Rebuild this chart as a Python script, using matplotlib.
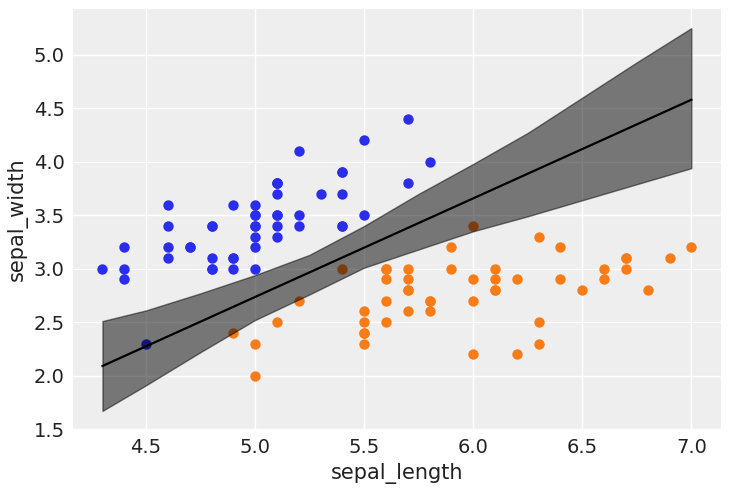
import matplotlib
matplotlib.use("Agg")
import matplotlib.pyplot as plt
import numpy as np

setosa_length = [5.1, 4.9, 4.7, 4.6, 5.0, 5.4, 4.6, 5.0, 4.4, 4.9, 5.4, 4.8, 4.8, 4.3, 5.8, 5.7, 5.4, 5.1, 5.7, 5.1,
                 5.4, 5.1, 4.6, 5.1, 4.8, 5.0, 5.0, 5.2, 5.2, 4.7, 4.8, 5.4, 5.2, 5.5, 4.9, 5.0, 5.5, 4.9, 4.4, 5.1,
                 5.0, 4.5, 4.4, 5.0, 5.1, 4.8, 5.1, 4.6, 5.3, 5.0]
setosa_width = [3.5, 3.0, 3.2, 3.1, 3.6, 3.9, 3.4, 3.4, 2.9, 3.1, 3.7, 3.4, 3.0, 3.0, 4.0, 4.4, 3.9, 3.5, 3.8, 3.8,
                3.4, 3.7, 3.6, 3.3, 3.4, 3.0, 3.4, 3.5, 3.4, 3.2, 3.1, 3.4, 4.1, 4.2, 3.1, 3.2, 3.5, 3.6, 3.0, 3.4,
                3.5, 2.3, 3.2, 3.5, 3.8, 3.0, 3.8, 3.2, 3.7, 3.3]
versicolor_length = [7.0, 6.4, 6.9, 5.5, 6.5, 5.7, 6.3, 4.9, 6.6, 5.2, 5.0, 5.9, 6.0, 6.1, 5.6, 6.7, 5.6, 5.8, 6.2, 5.6,
                     5.9, 6.1, 6.3, 6.1, 6.4, 6.6, 6.8, 6.7, 6.0, 5.7, 5.5, 5.5, 5.8, 6.0, 5.4, 6.0, 6.7, 6.3, 5.6, 5.5,
                     5.5, 6.1, 5.8, 5.0, 5.6, 5.7, 5.7, 6.2, 5.1, 5.7]
versicolor_width = [3.2, 3.2, 3.1, 2.3, 2.8, 2.8, 3.3, 2.4, 2.9, 2.7, 2.0, 3.0, 2.2, 2.9, 2.9, 3.1, 3.0, 2.7, 2.2, 2.5,
                    3.2, 2.8, 2.5, 2.8, 2.9, 3.0, 2.8, 3.0, 2.9, 2.6, 2.4, 2.4, 2.7, 2.7, 3.0, 3.4, 3.1, 2.3, 3.0, 2.5,
                    2.6, 3.0, 2.6, 2.3, 2.7, 3.0, 2.9, 2.9, 2.5, 2.8]

line_x = [4.3, 7.0]
line_y = [2.09, 4.58]

band_x = [4.3, 4.5, 4.75, 5.0, 5.25, 5.5, 5.75, 6.0, 6.25, 6.5, 6.75, 7.0]
band_upper = [2.51, 2.61, 2.77, 2.94, 3.13, 3.40, 3.70, 3.98, 4.27, 4.60, 4.93, 5.25]
band_lower = [1.67, 1.91, 2.22, 2.52, 2.76, 3.01, 3.18, 3.35, 3.49, 3.64, 3.79, 3.94]

plt.rcParams['font.family'] = ['DejaVu Sans']
fig = plt.figure(figsize=(7.31, 4.91), dpi=100)
ax = fig.add_axes([0.0999, 0.1242, 0.8861, 0.8575])
ax.set_facecolor('#eeeeee')
for s in ax.spines.values():
    s.set_visible(False)
ax.grid(True, color='white', linewidth=1.0)
ax.set_axisbelow(True)
ax.tick_params(length=0, labelsize=14, colors='#222222', pad=6)

ax.scatter(setosa_length, setosa_width, s=56, color='#2a2eec', zorder=2, linewidths=0)
ax.scatter(versicolor_length, versicolor_width, s=56, color='#fa7c17', zorder=2, linewidths=0)
ax.plot(line_x, line_y, color='k', linewidth=1.6, zorder=4)
ax.fill_between(band_x, band_lower, band_upper, color='k', alpha=0.5, zorder=3)

ax.set_xticks([4.5, 5.0, 5.5, 6.0, 6.5, 7.0])
ax.set_yticks([1.5, 2.0, 2.5, 3.0, 3.5, 4.0, 4.5, 5.0])
ax.set_xlabel('sepal_length', fontsize=15, color='#222222')
ax.set_ylabel('sepal_width', fontsize=15, color='#222222')

fig.savefig('out.png', dpi=100)
